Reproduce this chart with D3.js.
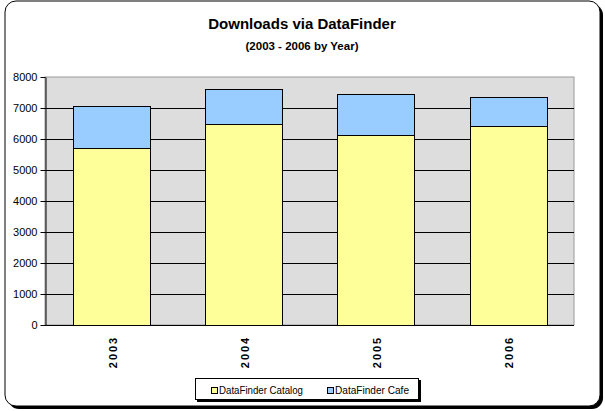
<!DOCTYPE html>
<html>
<head>
<meta charset="utf-8">
<script src="https://cdn.jsdelivr.net/npm/d3@7"></script>
<style>
  body { margin: 0; background: #fff; }
  svg { display: block; font-family: "Liberation Sans", Arial, sans-serif; }
</style>
</head>
<body>
<svg id="chart" width="605" height="411"></svg>
<script>
// data
const years = ['2003', '2004', '2005', '2006'];
const catalog = [5700, 6475, 6120, 6410];
const cafe = [1360, 1130, 1320, 940];
const seriesNames = ['DataFinder Catalog', 'DataFinder Cafe'];
const seriesColors = ['#ffff99', '#99ccff'];
const yTicks = [0, 1000, 2000, 3000, 4000, 5000, 6000, 7000, 8000];

const svg = d3.select('#chart');
const plot = { left: 45, top: 77, right: 574, bottom: 325 };

// outer frame with shadow
svg.append('rect').attr('x', 8).attr('y', 4).attr('width', 595).attr('height', 405)
  .attr('rx', 11).attr('fill', '#000');
svg.append('rect').attr('x', 5).attr('y', 1).attr('width', 595).attr('height', 405)
  .attr('rx', 11).attr('fill', '#fff').attr('stroke', '#000').attr('stroke-width', 1);

// titles
svg.append('text').attr('x', 302).attr('y', 29).attr('text-anchor', 'middle')
  .attr('font-size', 15).attr('font-weight', 'bold').text('Downloads via DataFinder');
svg.append('text').attr('x', 302).attr('y', 50).attr('text-anchor', 'middle')
  .attr('font-size', 11.5).attr('font-weight', 'bold').text('(2003 - 2006 by Year)');

const x = d3.scaleBand().domain(years).range([plot.left, plot.right]).paddingInner(0.42).paddingOuter(0.21);
const y = d3.scaleLinear().domain([0, 8000]).range([plot.bottom, plot.top]);

// plot area
svg.append('rect').attr('x', plot.left).attr('y', plot.top)
  .attr('width', plot.right - plot.left).attr('height', plot.bottom - plot.top)
  .attr('fill', '#dddddd').attr('stroke', '#999').attr('stroke-width', 1);

// gridlines
svg.append('g').selectAll('line').data(yTicks.filter(d => d > 0 && d < 8000)).join('line')
  .attr('x1', plot.left).attr('x2', plot.right)
  .attr('y1', d => Math.round(y(d)) + 0.5).attr('y2', d => Math.round(y(d)) + 0.5)
  .attr('stroke', '#000').attr('stroke-width', 1);

// y axis
const yAxis = svg.append('g').attr('transform', `translate(${plot.left + 0.5},0)`)
  .call(d3.axisLeft(y).tickValues(yTicks).tickFormat(d3.format('d'))
    .tickSize(5).tickPadding(3).tickSizeOuter(0));
yAxis.select('.domain').attr('stroke', '#000');
yAxis.selectAll('text').attr('font-size', 11).attr('fill', '#000')
  .attr('font-family', '"Liberation Sans", Arial, sans-serif');

// stacked bars
const stackData = years.map((yr, i) => ({ year: yr, catalog: catalog[i], cafe: cafe[i] }));
const stack = d3.stack().keys(['catalog', 'cafe'])(stackData);
svg.append('g').selectAll('g').data(stack).join('g')
  .attr('fill', (d, i) => seriesColors[i])
  .selectAll('rect').data(d => d).join('rect')
  .attr('x', d => Math.round(x(d.data.year)) + 0.5)
  .attr('width', Math.round(x.bandwidth()))
  .attr('y', d => Math.round(y(d[1])) + 0.5)
  .attr('height', d => Math.round(y(d[0])) - Math.round(y(d[1])))
  .attr('stroke', '#000').attr('stroke-width', 1);

// x axis baseline
svg.append('line').attr('x1', plot.left).attr('x2', plot.right)
  .attr('y1', plot.bottom + 0.5).attr('y2', plot.bottom + 0.5).attr('stroke', '#000');

// x labels, rotated
svg.append('g').selectAll('text').data(years).join('text')
  .attr('transform', d => `translate(${x(d) + x.bandwidth() / 2 + 5.5},352) rotate(-90)`)
  .attr('text-anchor', 'middle').attr('font-size', 11).attr('font-weight', 'bold')
  .attr('letter-spacing', 2).text(d => d);

// legend
const lg = svg.append('g');
lg.append('rect').attr('x', 197).attr('y', 380).attr('width', 224).attr('height', 22).attr('fill', '#000');
lg.append('rect').attr('x', 195.5).attr('y', 378.5).attr('width', 223).attr('height', 21)
  .attr('fill', '#fff').attr('stroke', '#000');
const legendX = [211, 327];
const legendLen = [84, 74];
seriesNames.forEach((name, i) => {
  lg.append('rect').attr('x', legendX[i] + 0.5).attr('y', 387.5).attr('width', 6).attr('height', 6)
    .attr('fill', seriesColors[i]).attr('stroke', '#000');
  lg.append('text').attr('x', legendX[i] + 8).attr('y', 394).attr('font-size', 11)
    .attr('textLength', legendLen[i]).attr('lengthAdjust', 'spacingAndGlyphs').text(name);
});
</script>
</body>
</html>
